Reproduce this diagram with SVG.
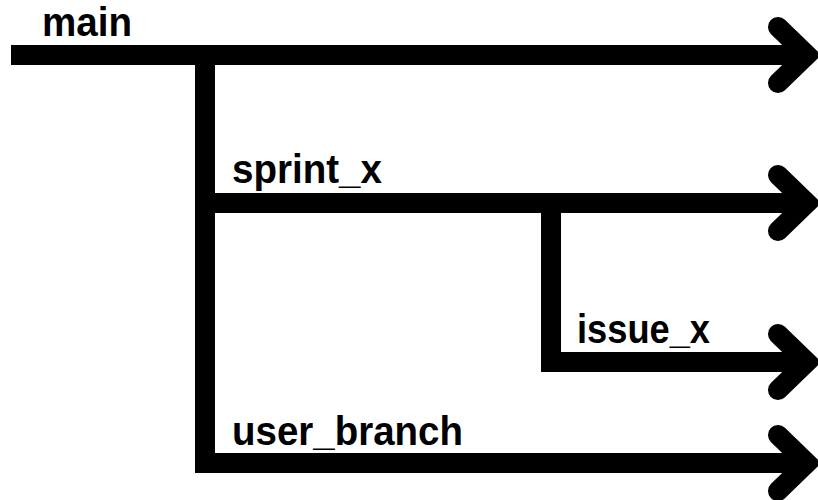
<svg xmlns="http://www.w3.org/2000/svg" width="818" height="500" viewBox="0 0 818 500">
  <style>
    .line { fill: none; stroke: #000; stroke-width: 20; stroke-linecap: butt; stroke-linejoin: miter; }
    .head { fill: none; stroke: #000; stroke-width: 20; stroke-linecap: round; stroke-linejoin: miter; }
    .label { font-family: "Liberation Sans", Arial, sans-serif; font-weight: 700; font-size: 40px; fill: #000; }
  </style>
  <rect width="818" height="500" fill="#fff"/>
  <g id="connectors">
    <path class="line" d="M11,55 H808"/>
    <path class="line" d="M205,65 V463 H808"/>
    <path class="line" d="M205,203 H808"/>
    <path class="line" d="M551,213 V362 H808"/>
    <polyline class="head" points="778,27 807,55 778,83"/>
    <polyline class="head" points="778,175 807,203 778,231"/>
    <polyline class="head" points="778,334 807,362 778,390"/>
    <polyline class="head" points="778,435 807,463 778,491"/>
  </g>
  <g id="main">
    <text class="label" x="42" y="36" font-size="39" textLength="90" lengthAdjust="spacingAndGlyphs">main</text>
  </g>
  <g id="sprint_x">
    <text class="label" x="232" y="183" textLength="150" lengthAdjust="spacingAndGlyphs">sprint_x</text>
  </g>
  <g id="issue_x">
    <text class="label" x="577" y="343" textLength="133" lengthAdjust="spacingAndGlyphs">issue_x</text>
  </g>
  <g id="user_branch">
    <text class="label" x="232" y="445" textLength="231" lengthAdjust="spacingAndGlyphs">user_branch</text>
  </g>
</svg>
